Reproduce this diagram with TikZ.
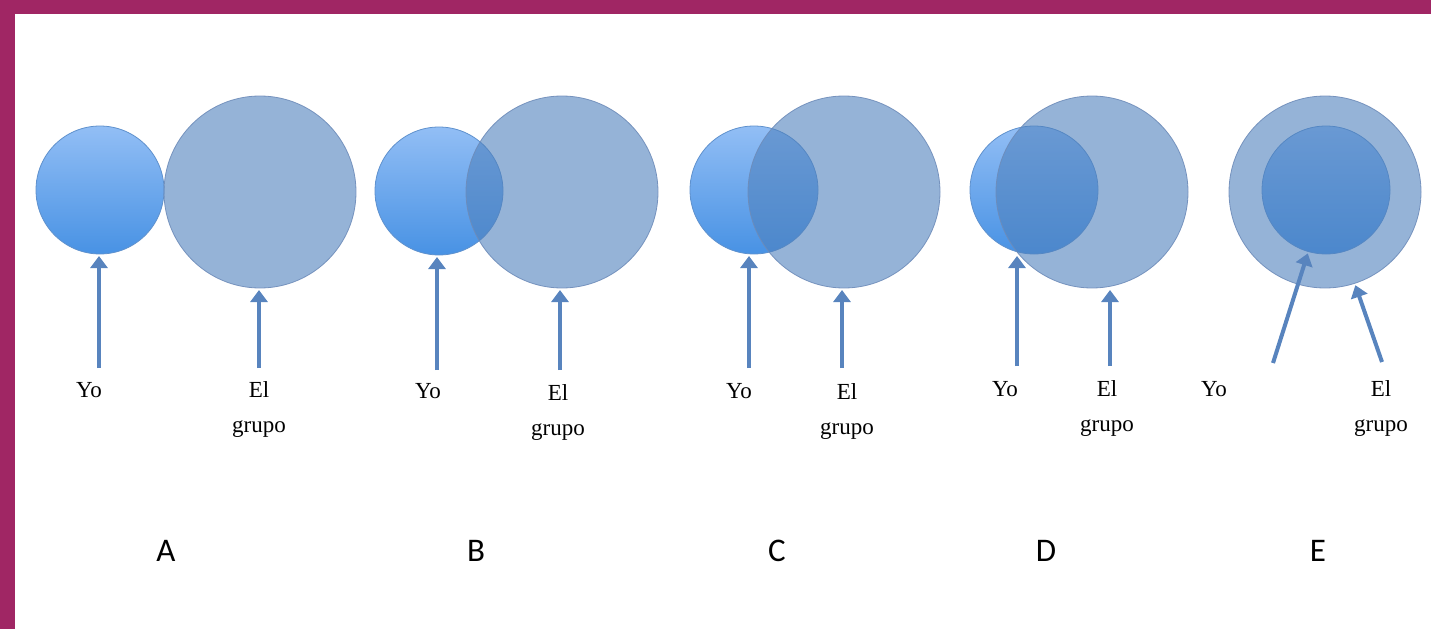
\documentclass[tikz,border=0pt]{standalone}
\usepackage{fontspec}
\setmainfont{Liberation Serif}
\newfontfamily\letrafont{Carlito}
\usepackage{xcolor}
\definecolor{marco}{RGB}{160,38,100}
\definecolor{yotop}{RGB}{146,190,245}
\definecolor{yobot}{RGB}{72,146,228}
\definecolor{yoline}{RGB}{95,145,205}
\definecolor{grupofill}{RGB}{79,129,189}
\definecolor{grupoline}{RGB}{110,140,185}
\definecolor{flechaazul}{RGB}{88,132,190}
\usepackage{tikz}
\usetikzlibrary{arrows.meta}

\begin{document}
\begin{tikzpicture}[x=1pt, y=-1pt,
    yo/.style={circle, inner sep=0pt, outer sep=0pt, minimum size=128pt,
      top color=yotop, bottom color=yobot, draw=yoline, line width=0.8pt},
    grupo/.style={circle, inner sep=0pt, outer sep=0pt, minimum size=192pt,
      fill=grupofill, fill opacity=0.6, draw=grupoline, draw opacity=0.9, line width=0.8pt},
    lbl/.style={inner sep=0pt, font=\fontsize{23}{35}\selectfont},
    letra/.style={inner sep=0pt, anchor=base, font=\letrafont\fontsize{33}{40}\selectfont},
    flecha/.style={-{Triangle[length=12pt, width=17pt]}, line width=4pt, draw=flechaazul, shorten >=2pt}]

    \useasboundingbox (0,0) rectangle (1431,629);
    \fill[marco] (0,0) rectangle (1431,14);
    \fill[marco] (0,0) rectangle (15,629);

    % A
    \node[yo] (yoA) at (100,190) {};
    \node[grupo] (grupoA) at (260,192) {};
    \node[lbl, anchor=base] (tyoA) at (89,397) {Yo};
    \node[lbl, anchor=north, align=center] (tgrupoA) at (259,381) {El\\grupo};
    \coordinate (pyoA) at (99,368);
    \coordinate (pgrupoA) at (259,368);
    \draw[flecha] (pyoA) -- (pyoA |- yoA.south);
    \draw[flecha] (pgrupoA) -- (pgrupoA |- grupoA.south);
    \node[letra] (letA) at (166,561) {A};

    % B
    \node[yo] (yoB) at (439,191) {};
    \node[grupo] (grupoB) at (562,192) {};
    \node[lbl, anchor=base] (tyoB) at (428,398) {Yo};
    \node[lbl, anchor=north, align=center] (tgrupoB) at (558,384) {El\\grupo};
    \coordinate (pyoB) at (437,370);
    \coordinate (pgrupoB) at (560,370);
    \draw[flecha] (pyoB) -- (pyoB |- yoB.south);
    \draw[flecha] (pgrupoB) -- (pgrupoB |- grupoB.south);
    \node[letra] (letB) at (476,561) {B};

    % C
    \node[yo] (yoC) at (754,190) {};
    \node[grupo] (grupoC) at (844,192) {};
    \node[lbl, anchor=base] (tyoC) at (739,398) {Yo};
    \node[lbl, anchor=north, align=center] (tgrupoC) at (847,383) {El\\grupo};
    \coordinate (pyoC) at (749,368);
    \coordinate (pgrupoC) at (842,368);
    \draw[flecha] (pyoC) -- (pyoC |- yoC.south);
    \draw[flecha] (pgrupoC) -- (pgrupoC |- grupoC.south);
    \node[letra] (letC) at (777,561) {C};

    % D
    \node[yo] (yoD) at (1034,190) {};
    \node[grupo] (grupoD) at (1092,192) {};
    \node[lbl, anchor=base] (tyoD) at (1005,396) {Yo};
    \node[lbl, anchor=north, align=center] (tgrupoD) at (1107,380) {El\\grupo};
    \coordinate (pyoD) at (1017,366);
    \coordinate (pgrupoD) at (1110,366);
    \draw[flecha] (pyoD) -- (pyoD |- yoD.south);
    \draw[flecha] (pgrupoD) -- (pgrupoD |- grupoD.south);
    \node[letra] (letD) at (1046,561) {D};

    % E
    \node[yo] (yoE) at (1326,190) {};
    \node[grupo] (grupoE) at (1325,192) {};
    \node[lbl, anchor=base] (tyoE) at (1214,396) {Yo};
    \node[lbl, anchor=north, align=center] (tgrupoE) at (1381,380) {El\\grupo};
    \coordinate (pyoE) at (1273,363);
    \coordinate (pgrupoE) at (1382,362);
    \draw[flecha] (pyoE) -- (yoE.254);
    \draw[flecha] (pgrupoE) -- (grupoE.288);
    \node[letra] (letE) at (1318,561) {E};

\end{tikzpicture}
\end{document}
